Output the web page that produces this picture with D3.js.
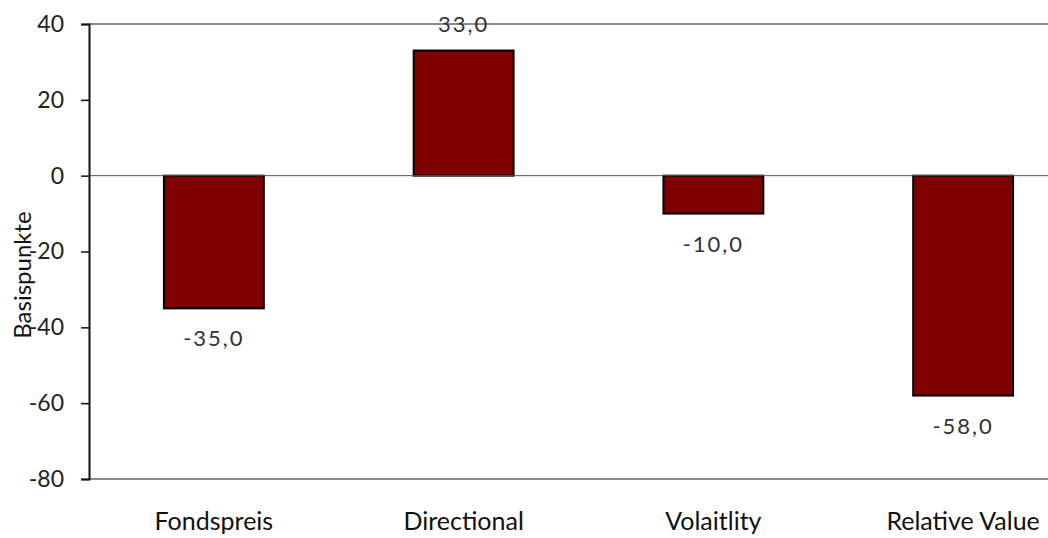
<!DOCTYPE html>
<html>
<head>
<meta charset="utf-8">
<script src="https://cdn.jsdelivr.net/npm/d3@7"></script>
<style>
  html, body { margin: 0; padding: 0; background: #fff; }
  svg { display: block; }
  text { font-family: Lato, "Open Sans", sans-serif; }
</style>
</head>
<body>
<svg id="chart" width="1048" height="538"></svg>
<script>
// Performance attribution in basis points
const categories = ["Fondspreis", "Directional", "Volaitlity", "Relative Value"];
const values = [-35.0, 33.0, -10.0, -58.0];
const yTicks = [40, 20, 0, -20, -40, -60, -80];
const yTitle = "Basispunkte";

const svg = d3.select("#chart");
const margin = { left: 89, top: 24, right: -40, bottom: 59 };
const W = 1048, H = 538;

const x = d3.scaleBand()
  .domain(categories)
  .range([margin.left, W - margin.right])
  .paddingInner(0.6)
  .paddingOuter(0.3);

const y = d3.scaleLinear()
  .domain([-80, 40])
  .range([H - margin.bottom, margin.top]);

const fmt = v => d3.format(".1f")(v).replace(".", ",").replace("−", "-");

// plot frame: top and bottom gray borders
svg.append("line")
  .attr("x1", margin.left).attr("x2", W)
  .attr("y1", y(40)).attr("y2", y(40))
  .attr("stroke", "#8c8c8c").attr("stroke-width", 2);
svg.append("line")
  .attr("x1", margin.left).attr("x2", W)
  .attr("y1", y(-80)).attr("y2", y(-80))
  .attr("stroke", "#8c8c8c").attr("stroke-width", 2);

// bars
svg.append("g").selectAll("rect")
  .data(categories)
  .join("rect")
  .attr("x", d => x(d))
  .attr("width", x.bandwidth())
  .attr("y", (d, i) => y(Math.max(0, values[i])))
  .attr("height", (d, i) => Math.abs(y(values[i]) - y(0)))
  .attr("fill", "#7f0000")
  .attr("stroke", "#000")
  .attr("stroke-width", 2);

// zero line
svg.append("line")
  .attr("x1", margin.left).attr("x2", W)
  .attr("y1", y(0)).attr("y2", y(0))
  .attr("stroke", "#555").attr("stroke-width", 1);

// y axis
const yAxis = d3.axisLeft(y)
  .tickValues(yTicks)
  .tickSize(8)
  .tickPadding(17)
  .tickFormat(d => d3.format("d")(d).replace("−", "-"));
const gy = svg.append("g")
  .attr("transform", `translate(${margin.left},0)`)
  .call(yAxis);
gy.select(".domain").attr("stroke", "#111").attr("stroke-width", 2);
gy.selectAll(".tick line").attr("stroke", "#111").attr("stroke-width", 1.5);
gy.selectAll(".tick text")
  .attr("fill", "#222")
  .style("font-size", "23px")
  .style("font-family", "Lato, 'Open Sans', sans-serif");

// category labels
svg.append("g").selectAll("text")
  .data(categories)
  .join("text")
  .attr("x", d => x(d) + x.bandwidth() / 2)
  .attr("y", 530)
  .attr("text-anchor", "middle")
  .attr("fill", "#111")
  .style("font-size", "25px")
  .text(d => d);

// value labels
svg.append("g").selectAll("text")
  .data(categories)
  .join("text")
  .attr("x", d => x(d) + x.bandwidth() / 2)
  .attr("y", (d, i) => values[i] >= 0 ? y(values[i]) - 19 : y(values[i]) + 38)
  .attr("text-anchor", "middle")
  .attr("fill", "#333")
  .style("font-size", "22px")
  .style("letter-spacing", "2px")
  .text((d, i) => fmt(values[i]));

// y axis title
svg.append("text")
  .attr("transform", `translate(31,${275}) rotate(-90)`)
  .attr("text-anchor", "middle")
  .attr("fill", "#111")
  .style("font-size", "24px")
  .text(yTitle);
</script>
</body>
</html>
